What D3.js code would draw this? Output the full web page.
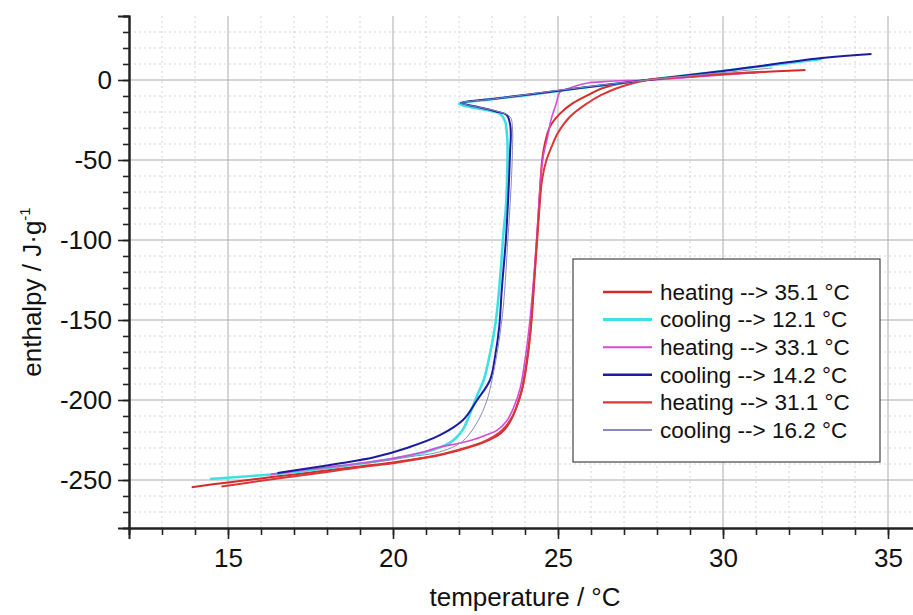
<!DOCTYPE html>
<html>
<head>
<meta charset="utf-8">
<style>
  body { margin: 0; background: #fff; }
  svg { display: block; font-family: Arial, "Liberation Sans", sans-serif; }
</style>
<script src="https://cdn.jsdelivr.net/npm/d3@7"></script>
</head>
<body>
<svg id="chart" width="913" height="615"></svg>
<script>
// temperature [°C], enthalpy [J/g]
var heat351 = [[13.9,-254.5],[15,-251.5],[16,-249],[17,-246.5],[18.4,-243],[19,-241.5],[20,-239],[21,-236],[21.4,-234.5],[22,-231.5],[22.4,-229],[22.8,-226],[23.15,-222.5],[23.4,-218],[23.55,-213.5],[23.75,-204],[23.9,-194],[24.0,-183],[24.15,-160],[24.24,-135],[24.36,-100],[24.45,-70],[24.52,-50],[24.6,-40],[24.76,-29],[25.06,-21],[25.45,-14.5],[26,-8.5],[26.3,-5.5],[26.7,-3],[27.2,-1.2],[27.7,0],[29,2],[30,3.7],[31,4.9],[32.5,6.3]];
var cool121 = [[33.0,13.2],[30,5.6],[27.7,0],[25.67,-5],[24,-9.6],[23,-12],[22.0,-15],[22.5,-17.5],[23.0,-19.5],[23.24,-21],[23.4,-26],[23.44,-31],[23.47,-40],[23.46,-60],[23.42,-80],[23.35,-95],[23.26,-120],[23.12,-150],[22.95,-170],[22.75,-187.5],[22.55,-197],[22.4,-205],[22.1,-219],[21.7,-227],[21.0,-232.5],[19.9,-237],[18.4,-241.5],[17.8,-243],[16.8,-245.6],[15.5,-247.8],[14.45,-249.4]];
var heat331 = [[16.3,-246.5],[17,-244.5],[18,-242],[19,-239.5],[20,-236.5],[21,-232],[21.4,-229.5],[22,-227],[22.4,-225],[22.8,-222],[23.15,-219],[23.45,-213],[23.65,-205],[23.85,-193],[24.0,-175],[24.15,-150],[24.28,-120],[24.4,-85],[24.48,-60],[24.55,-48],[24.68,-36],[24.8,-24],[24.95,-14.5],[25.06,-7.5],[25.36,-5],[25.9,-1.9],[26.3,-1.2],[26.7,-0.6],[27.7,0],[29,1.8],[30,3.2],[31,4.5]];
var cool142 = [[34.5,16.3],[33,13.7],[30,5.6],[27.7,0],[25.67,-5],[24,-9.4],[23,-11.9],[22.06,-14.3],[22.6,-17],[23.1,-19.5],[23.45,-22],[23.55,-28],[23.57,-35],[23.55,-44],[23.5,-70],[23.42,-100],[23.3,-130],[23.22,-154],[23.1,-172],[22.94,-187.5],[22.55,-200],[22.12,-212.5],[21.42,-222],[20.42,-230],[19.4,-236],[18.4,-239.5],[17.5,-242.5],[16.5,-245.6]];
var heat311 = [[14.8,-254],[15.5,-252],[16.5,-249],[18,-245],[19,-242],[20,-239.5],[21,-236],[22,-231],[22.8,-225.5],[23.3,-219],[23.6,-211],[23.8,-201],[23.95,-190],[24.1,-170],[24.2,-150],[24.3,-120],[24.42,-85],[24.52,-62],[24.65,-50],[24.8,-42],[25.0,-33],[25.36,-23],[25.9,-14.4],[26.3,-9.5],[26.8,-5],[27.2,-2.5],[27.7,0],[29,2.2],[30.5,4.2],[31.3,5]];
var cool162 = [[31.5,7.5],[27.7,0],[25,-6.5],[23,-12],[22.06,-14.3],[22.6,-17],[23.2,-19.8],[23.55,-23],[23.62,-30],[23.62,-44],[23.57,-70],[23.48,-100],[23.35,-140],[23.2,-165],[23.0,-187.5],[22.85,-200],[22.55,-214],[22.1,-226],[21.4,-232.5],[20.5,-235.5],[19.9,-237.5],[18.8,-240.5],[17.6,-243.5]];

var seriesNames = ["heating --> 35.1 °C","cooling --> 12.1 °C","heating --> 33.1 °C","cooling --> 14.2 °C","heating --> 31.1 °C","cooling --> 16.2 °C"];
var seriesData = [heat351, cool121, heat331, cool142, heat311, cool162];
var xTicks = [15, 20, 25, 30, 35];
var yTicks = [0, -50, -100, -150, -200, -250];

var colors = ["#d42a2a", "#3fe0e3", "#d84ad8", "#1c1ca0", "#d83838", "#8a8ab8"];
var widths = [2, 2.6, 1.6, 2, 2, 1];

var svg = d3.select("#chart");
var x = d3.scaleLinear().domain([12, 36]).range([129, 921]);
var y = d3.scaleLinear().domain([-280, 40]).range([528, 16]);

// grid
var grid = svg.append("g");
grid.selectAll("line.vmin").data(d3.range(13, 36).filter(function(d){ return d % 5 !== 0; })).enter().append("line")
  .attr("x1", function(d){ return x(d); }).attr("x2", function(d){ return x(d); })
  .attr("y1", y(40)).attr("y2", y(-280))
  .style("stroke", "#d4d4d4").style("stroke-dasharray", "2,3");
grid.selectAll("line.hmin").data(d3.range(-270, 40, 10).filter(function(d){ return d % 50 !== 0; })).enter().append("line")
  .attr("x1", x(12)).attr("x2", x(36))
  .attr("y1", function(d){ return y(d); }).attr("y2", function(d){ return y(d); })
  .style("stroke", "#d4d4d4").style("stroke-dasharray", "2,3");
grid.selectAll("line.vmaj").data(xTicks).enter().append("line")
  .attr("x1", function(d){ return x(d); }).attr("x2", function(d){ return x(d); })
  .attr("y1", y(40)).attr("y2", y(-280))
  .style("stroke", "#ababab");
grid.selectAll("line.hmaj").data(yTicks).enter().append("line")
  .attr("x1", x(12)).attr("x2", x(36))
  .attr("y1", function(d){ return y(d); }).attr("y2", function(d){ return y(d); })
  .style("stroke", "#ababab");

// curves
var line = d3.line()
  .x(function(d){ return x(d[0]); })
  .y(function(d){ return y(d[1]); })
  .curve(d3.curveCatmullRom.alpha(0.5));

svg.append("g").selectAll("path").data(seriesData).enter().append("path")
  .attr("d", line)
  .style("fill", "none")
  .style("stroke", function(d, i){ return colors[i]; })
  .style("stroke-width", function(d, i){ return widths[i]; })
  .style("stroke-linejoin", "round");

// axes
var fmt = function(d){ return String(d); };
var xMinor = svg.append("g").attr("transform", "translate(0," + y(-280) + ")")
  .call(d3.axisBottom(x).tickValues(d3.range(13, 36)).tickSize(7).tickFormat(""));
var xAxis = svg.append("g").attr("transform", "translate(0," + y(-280) + ")")
  .call(d3.axisBottom(x).tickValues(xTicks).tickSize(11).tickPadding(10).tickFormat(fmt));
var yMinor = svg.append("g").attr("transform", "translate(" + x(12) + ",0)")
  .call(d3.axisLeft(y).tickValues(d3.range(-270, 41, 10)).tickSize(6).tickFormat(""));
var yAxis = svg.append("g").attr("transform", "translate(" + x(12) + ",0)")
  .call(d3.axisLeft(y).tickValues(yTicks).tickSize(11).tickPadding(6).tickFormat(fmt));

[xMinor, xAxis, yMinor, yAxis].forEach(function(g){
  g.select(".domain").style("stroke", "#222").style("stroke-width", 2);
  g.selectAll(".tick line").style("stroke", "#222").style("stroke-width", 1.6);
  g.selectAll(".tick text").style("font-family", "Arial, 'Liberation Sans', sans-serif")
    .style("font-size", "26px").style("fill", "#111");
});

// axis titles
svg.append("text")
  .attr("x", (x(12) + x(36)) / 2).attr("y", 606)
  .attr("text-anchor", "middle")
  .style("font-size", "26px").style("fill", "#111")
  .text("temperature / °C");

var yt = svg.append("text")
  .attr("transform", "translate(41," + 292 + ") rotate(-90)")
  .attr("text-anchor", "middle")
  .style("font-size", "26px").style("fill", "#111");
yt.append("tspan").text("enthalpy / J·g");
yt.append("tspan").attr("dy", -11).style("font-size", "15px").text("-1");

// legend
var lg = svg.append("g");
lg.append("rect").attr("x", 573).attr("y", 259).attr("width", 307).attr("height", 203)
  .style("fill", "#fff").style("stroke", "#444").style("stroke-width", 1.2);
var rows = lg.selectAll("g.row").data(seriesNames).enter().append("g")
  .attr("transform", function(d, i){ return "translate(0," + (292 + i * 27.6) + ")"; });
rows.append("line").attr("x1", 603).attr("x2", 652).attr("y1", 0).attr("y2", 0)
  .style("stroke", function(d, i){ return colors[i]; })
  .style("stroke-width", function(d, i){ return Math.max(widths[i], 1.5) + 0.4; });
rows.append("text").attr("x", 660).attr("dy", "0.35em")
  .style("font-size", "22.5px").style("fill", "#111")
  .text(function(d){ return d; });
</script>
</body>
</html>
